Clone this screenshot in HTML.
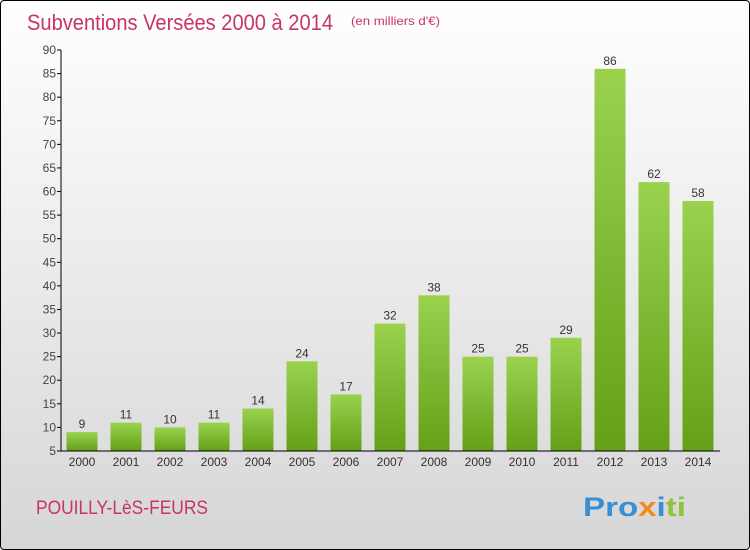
<!DOCTYPE html>
<html><head><meta charset="utf-8"><style>
body{margin:0;width:750px;height:550px;overflow:hidden;font-family:"Liberation Sans",sans-serif}
#wrap{position:absolute;left:0;top:0;width:748px;height:548px;border:1px solid #000;border-radius:4px;background:linear-gradient(#ffffff,#d6d6d6)}
</style></head><body>
<div id="wrap">
<svg width="750" height="550" style="position:absolute;left:-1px;top:-1px">
<defs><linearGradient id="g" x1="0" y1="0" x2="0" y2="1"><stop offset="0" stop-color="#9ad24e"/><stop offset="1" stop-color="#64a018"/></linearGradient></defs>
<text x="27" y="30" font-size="22" fill="#c8336a" textLength="306" lengthAdjust="spacingAndGlyphs">Subventions Versées 2000 à 2014</text>
<text x="351" y="25" font-size="12" fill="#c8336a" textLength="89" lengthAdjust="spacingAndGlyphs">(en milliers d'€)</text>
<text x="36" y="514" font-size="19" fill="#c8336a" textLength="172" lengthAdjust="spacingAndGlyphs">POUILLY-LèS-FEURS</text>
<text x="583" y="516" font-size="27" font-weight="bold" textLength="103" lengthAdjust="spacingAndGlyphs"><tspan fill="#3a8fd0">Pro</tspan><tspan fill="#f08a1c">x</tspan><tspan fill="#3a8fd0">i</tspan><tspan fill="#8cc43c">ti</tspan></text>
<g id="plot"></g>
</svg></div>
<script>
const years=["2000","2001","2002","2003","2004","2005","2006","2007","2008","2009","2010","2011","2012","2013","2014"];
const values=[9,11,10,11,14,24,17,32,38,25,25,29,86,62,58];
const yTicks=[5,10,15,20,25,30,35,40,45,50,55,60,65,70,75,80,85,90];
const NS="http://www.w3.org/2000/svg";
const g=document.getElementById('plot');
const y=v=>451-(v-5)*(401/85);
const x=i=>82+i*44;
function mk(t,a,txt){const e=document.createElementNS(NS,t);for(const k in a)e.setAttribute(k,a[k]);if(txt!=null)e.textContent=txt;g.appendChild(e);return e;}
years.forEach((yr,i)=>{
 const b=mk('rect',{x:x(i)-15.5,y:y(values[i]),width:31,height:451-y(values[i]),fill:'url(#g)'});
 
 
 const l=mk('text',{x:x(i),y:y(values[i])-4,'font-size':12,fill:'#333','text-anchor':'middle'},String(values[i]));
 
 
 const t=mk('text',{x:x(i),y:466,'font-size':12,fill:'#333','text-anchor':'middle'},yr);
 
 
});
yTicks.forEach(v=>{
 const tk=mk('line',{x1:57,x2:61,y1:y(v),y2:y(v),stroke:'#000'});
 
 
 const t=mk('text',{x:56,y:y(v)+4,'font-size':12,fill:'#444','text-anchor':'end'},String(v));
 
 
});
const ya=mk('line',{x1:61,x2:61,y1:y(90),y2:451,stroke:'#000'});


const xa=mk('line',{x1:61,x2:720,y1:451,y2:451,stroke:'#000'});


</script>
</body></html>
